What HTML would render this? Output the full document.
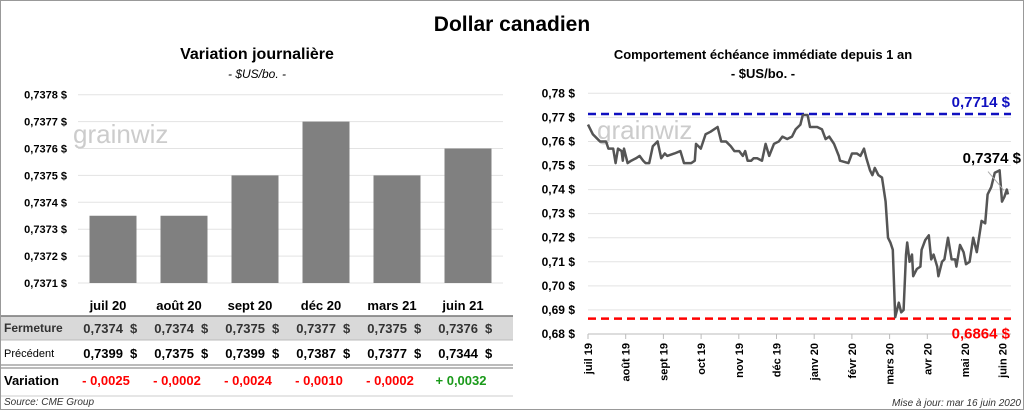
<!DOCTYPE html>
<html><head><meta charset="utf-8"><style>
body{margin:0;background:#fff;font-family:"Liberation Sans",Arial,sans-serif}
#wrap{position:relative;width:1022px;height:408px;border:1px solid #999;overflow:hidden}
.t{position:absolute;white-space:nowrap}
</style></head><body>
<div id="wrap">
<div class="t" style="left:0;width:1022px;text-align:center;top:12px;font-size:21px;font-weight:bold">Dollar canadien</div>
<svg id="L" width="512" height="408" style="position:absolute;left:0;top:0"></svg>
<svg id="R" width="510" height="408" style="position:absolute;top:0;left:512px"></svg>
</div>
<script>
const barCats=["juil 20","août 20","sept 20","déc 20","mars 21","juin 21"];
const barVals=[0.73735,0.73735,0.7375,0.7377,0.7375,0.7376];
const fermeture=["0,7374","0,7374","0,7375","0,7377","0,7375","0,7376"];
const precedent=["0,7399","0,7375","0,7399","0,7387","0,7377","0,7344"];
const variation=["- 0,0025","- 0,0002","- 0,0024","- 0,0010","- 0,0002","+ 0,0032"];
const leftTicks=[0.7371,0.7372,0.7373,0.7374,0.7375,0.7376,0.7377,0.7378];
const days=[0,4,10,15,17,21,23,25,28,29,30,33,36,40,43,46,48,51,54,58,61,64,66,72,77,80,86,89,90,94,98,102,108,111,115,119,122,126,129,131,133,136,138,141,145,148,151,155,159,162,166,170,173,177,179,183,185,191,195,198,201,205,209,210,217,220,224,227,230,232,235,237,239,242,245,248,250,252,254,256,259,261,263,265,266,268,270,271,274,277,278,281,284,286,288,291,292,295,297,300,303,306,307,310,313,315,318,321,324,328,331,333,336,339,343,345,347,349,350];
const prices=[0.767,0.763,0.760,0.760,0.757,0.757,0.751,0.757,0.756,0.752,0.757,0.751,0.752,0.753,0.754,0.752,0.751,0.751,0.758,0.760,0.753,0.755,0.754,0.755,0.756,0.751,0.751,0.752,0.759,0.757,0.763,0.764,0.766,0.760,0.760,0.758,0.756,0.756,0.754,0.756,0.752,0.752,0.753,0.753,0.752,0.759,0.754,0.759,0.760,0.762,0.761,0.762,0.765,0.767,0.771,0.771,0.766,0.766,0.765,0.761,0.762,0.759,0.754,0.752,0.751,0.755,0.755,0.754,0.757,0.753,0.748,0.746,0.749,0.746,0.745,0.735,0.720,0.718,0.715,0.687,0.693,0.689,0.690,0.713,0.718,0.710,0.713,0.704,0.707,0.708,0.715,0.719,0.721,0.711,0.713,0.708,0.704,0.710,0.711,0.720,0.711,0.711,0.708,0.717,0.714,0.709,0.710,0.720,0.714,0.727,0.726,0.738,0.741,0.747,0.748,0.735,0.737,0.740,0.738];
const rightTicks=[0.68,0.69,0.70,0.71,0.72,0.73,0.74,0.75,0.76,0.77,0.78];
const months=["juil 19","août 19","sept 19","oct 19","nov 19","déc 19","janv 20","févr 20","mars 20","avr 20","mai 20","juin 20"];
const highVal=0.7714, lowVal=0.6864, lastLabel="0,7374 $";
const NS="http://www.w3.org/2000/svg";
function mk(svg,tag,attrs,txt){const e=document.createElementNS(NS,tag);for(const k in attrs)e.setAttribute(k,attrs[k]);if(txt!==undefined)e.textContent=txt;svg.appendChild(e);return e;}
const F='"Liberation Sans",Arial,sans-serif';
// LEFT
const L=document.getElementById('L');
let e;
e=mk(L,'text',{x:256,y:58,'text-anchor':'middle','font-size':16,'font-weight':'bold','font-family':F},'Variation  journalière');

e=mk(L,'text',{x:256,y:77,'text-anchor':'middle','font-size':12,'font-style':'italic','font-family':F},'- $US/bo. -');

const ly=v=>282-(v-0.7371)/0.0001*26.9;
leftTicks.forEach(v=>{
mk(L,'line',{x1:77,x2:502,y1:ly(v),y2:ly(v),stroke:'#e3e3e3'});
e=mk(L,'text',{x:66,y:ly(v)+4,'text-anchor':'end','font-size':11,'font-weight':'bold','font-family':F},v.toFixed(4).replace('.',',')+' $');
});
e=mk(L,'text',{x:72,y:142,'font-size':26,fill:'#ccc','font-family':F},'grainwiz');

const bx=i=>112+i*71;
barVals.forEach((v,i)=>{e=mk(L,'rect',{x:bx(i)-23.5,y:ly(v),width:47,height:282-ly(v),fill:'#808080'});
});
mk(L,'rect',{x:0,y:315,width:512,height:24,fill:'#d9d9d9'});
mk(L,'line',{x1:0,y1:315,x2:512,y2:315,stroke:'#777','stroke-width':1.5});
mk(L,'line',{x1:0,y1:339,x2:512,y2:339,stroke:'#bbb'});
mk(L,'line',{x1:0,y1:364,x2:512,y2:364,stroke:'#777','stroke-width':1});
mk(L,'line',{x1:0,y1:367,x2:512,y2:367,stroke:'#777','stroke-width':1});
mk(L,'line',{x1:0,y1:395,x2:512,y2:395,stroke:'#ccc'});
e=mk(L,'text',{x:3,y:331,'font-size':12,'font-weight':'bold',fill:'#333','font-family':F},'Fermeture');
e=mk(L,'text',{x:3,y:356,'font-size':11,'font-family':F},'Précédent');
e=mk(L,'text',{x:3,y:384,'font-size':13,'font-weight':'bold','font-family':F},'Variation');
e=mk(L,'text',{x:3,y:404,'font-size':10,'font-style':'italic',fill:'#333','font-family':F},'Source: CME Group');
barCats.forEach((c,i)=>{const c0=bx(i);
e=mk(L,'text',{x:c0-5,y:309,'text-anchor':'middle','font-size':13,'font-weight':'bold','font-family':F},c);
e=mk(L,'text',{x:c0+10,y:332,'text-anchor':'end','font-size':13,'font-weight':'bold',fill:'#333','font-family':F},fermeture[i]);
e=mk(L,'text',{x:c0+17,y:332,'font-size':13,'font-weight':'bold',fill:'#333','font-family':F},'$');
e=mk(L,'text',{x:c0+10,y:357,'text-anchor':'end','font-size':13,'font-weight':'bold','font-family':F},precedent[i]);
e=mk(L,'text',{x:c0+17,y:357,'font-size':13,'font-weight':'bold','font-family':F},'$');
e=mk(L,'text',{x:c0-7,y:384,'text-anchor':'middle','font-size':13,'font-weight':'bold',fill:variation[i][0]=='+'?'#1a9a1a':'#ff0000','font-family':F},variation[i]);
});
// RIGHT
const R=document.getElementById('R');
e=mk(R,'text',{x:250,y:58,'text-anchor':'middle','font-size':13,'font-weight':'bold','font-family':F},'Comportement échéance immédiate depuis 1 an');
e=mk(R,'text',{x:250,y:77,'text-anchor':'middle','font-size':13,'font-weight':'bold','font-family':F},'- $US/bo. -');
e=mk(R,'text',{x:84,y:138,'font-size':26,fill:'#ccc','font-family':F},'grainwiz');
const ox=75;
const ry=v=>333-(v-0.68)/0.01*24.07;
const rx=d=>ox+d*1.2;
rightTicks.forEach(v=>{
mk(R,'line',{x1:ox,x2:498,y1:ry(v),y2:ry(v),stroke:v==0.68?'#bbb':'#e3e3e3'});
e=mk(R,'text',{x:ox-13,y:ry(v)+4,'text-anchor':'end','font-size':12,'font-weight':'bold','font-family':F},v.toFixed(2).replace('.',',')+' $');
});
months.forEach((m,i)=>{const x=ox+i*37.7;
mk(R,'line',{x1:x,x2:x,y1:333,y2:338,stroke:'#bbb'});
e=mk(R,'text',{x:0,y:0,transform:`translate(${x+4},342) rotate(-90)`,'text-anchor':'end','font-size':11,'font-weight':'bold','font-family':F},m);
});
e=mk(R,'line',{x1:ox,x2:498,y1:ry(highVal),y2:ry(highVal),stroke:'#1010c0','stroke-width':2.5,'stroke-dasharray':'8,5'});
e=mk(R,'line',{x1:ox,x2:498,y1:ry(lowVal),y2:ry(lowVal),stroke:'#ff0000','stroke-width':2.5,'stroke-dasharray':'8,5'});
e=mk(R,'text',{x:497,y:ry(highVal)-7,'text-anchor':'end','font-size':15,'font-weight':'bold',fill:'#1010c0','font-family':F},highVal.toFixed(4).replace('.',',')+' $');
e=mk(R,'text',{x:497,y:ry(lowVal)+20,'text-anchor':'end','font-size':15,'font-weight':'bold',fill:'#ff0000','font-family':F},lowVal.toFixed(4).replace('.',',')+' $');
e=mk(R,'polyline',{points:days.map((d,i)=>rx(d)+','+ry(prices[i])).join(' '),fill:'none',stroke:'#555','stroke-width':2.5,'stroke-linejoin':'round'});
const li=days.length-1;
mk(R,'line',{x1:rx(days[li])-20,y1:ry(0.7475),x2:rx(days[li])-4,y2:ry(prices[li])-4,stroke:'#aaa'});
e=mk(R,'text',{x:508,y:162,'text-anchor':'end','font-size':15,'font-weight':'bold','font-family':F},lastLabel);
e=mk(R,'text',{x:508,y:405,'text-anchor':'end','font-size':10,'font-style':'italic',fill:'#333','font-family':F},'Mise à jour: mar 16 juin 2020');
</script>
</body></html>
